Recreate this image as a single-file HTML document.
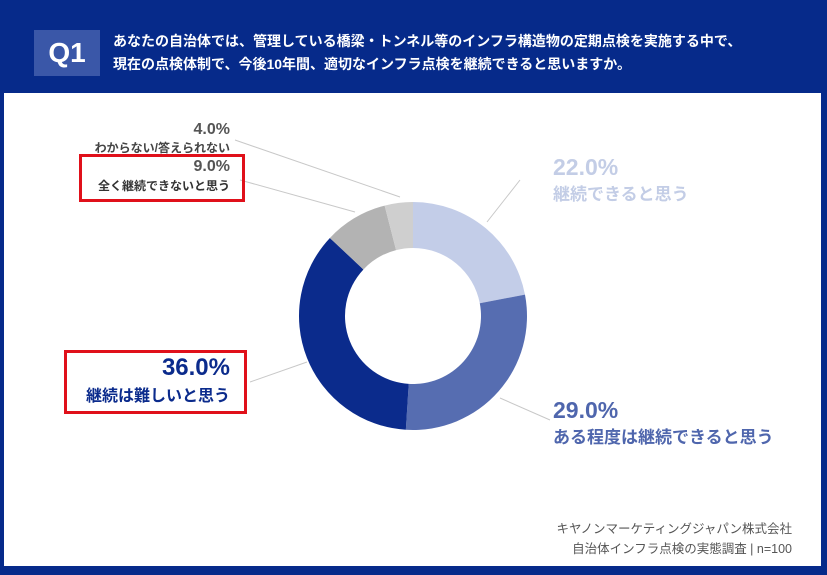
<!DOCTYPE html>
<html><head><meta charset="utf-8">
<style>
body{margin:0;width:827px;height:575px;background:#062a8a;font-family:"Liberation Sans","Noto Sans CJK JP",sans-serif;position:relative;overflow:hidden}
.abs{position:absolute}
#panel{left:4px;top:93px;width:817px;height:473px;background:#fff}
#q1{left:34px;top:30px;width:66px;height:46px;background:#3a57a8;color:#fff;font-weight:bold;font-size:28px;line-height:46px;text-align:center}
#qtext{left:113px;top:30px;color:#fff;font-weight:bold;font-size:14px;line-height:23px}
.lbl{font-weight:bold;white-space:nowrap}
.box{border:3px solid #e0101a}
</style></head><body>
<div class="abs" id="panel"></div>
<div class="abs" id="q1">Q1</div>
<div class="abs" id="qtext">あなたの自治体では、管理している橋梁・トンネル等のインフラ構造物の定期点検を実施する中で、<br>現在の点検体制で、今後10年間、適切なインフラ点検を継続できると思いますか。</div>
<svg class="abs" style="left:0;top:0" width="827" height="575">
<g id="lines" stroke="#c8c8c8" stroke-width="1" fill="none">
<polyline points="235,140 400,197"/>
<polyline points="240,180 355,212"/>
<polyline points="250,382 307,362"/>
<polyline points="520,180 487,222"/>
<polyline points="550,420 500,398"/>
</g>
<g id="slices"></g>
</svg>
<div class="abs lbl" style="left:170px;top:121px;text-align:right;width:60px;font-size:16px;color:#555">4.0%</div>
<div class="abs lbl" style="left:70px;top:139px;width:160px;text-align:right;font-size:12px;color:#444">わからない/答えられない</div>
<div class="abs box" style="left:79px;top:154px;width:160px;height:42px"></div>
<div class="abs lbl" style="left:150px;top:158px;width:80px;text-align:right;font-size:16px;color:#555">9.0%</div>
<div class="abs lbl" style="left:70px;top:177px;width:160px;text-align:right;font-size:12px;color:#333">全く継続できないと思う</div>
<div class="abs box" style="left:64px;top:350px;width:177px;height:58px"></div>
<div class="abs lbl" style="left:110px;top:354px;width:120px;text-align:right;font-size:24px;color:#0b2b8c">36.0%</div>
<div class="abs lbl" style="left:60px;top:382px;width:170px;text-align:right;font-size:16px;color:#0b2b8c">継続は難しいと思う</div>
<div class="abs lbl" style="left:553px;top:154px;font-size:23px;color:#c3cde6">22.0%</div>
<div class="abs lbl" style="left:553px;top:180px;font-size:17px;color:#c3cde6">継続できると思う</div>
<div class="abs lbl" style="left:553px;top:397px;font-size:23px;color:#4f66ad">29.0%</div>
<div class="abs lbl" style="left:553px;top:423px;font-size:17px;color:#4f66ad">ある程度は継続できると思う</div>
<div class="abs" style="left:520px;top:519px;width:272px;text-align:right;font-size:12.5px;line-height:20px;color:#555">キヤノンマーケティングジャパン株式会社<br>自治体インフラ点検の実態調査 | n=100</div>
<script>
const categories=["継続できると思う","ある程度は継続できると思う","継続は難しいと思う","全く継続できないと思う","わからない/答えられない"];
const values=[22,29,36,9,4];
const colors=["#c3cde8","#566db1","#0b2b8c","#b3b3b3","#cfcfcf"];
const cx=413,cy=316,R=114,r=68;
const g=document.getElementById('slices');
const total=values.reduce((a,b)=>a+b,0);
let acc=0;
function pt(rad,a){return [cx+rad*Math.sin(a),cy-rad*Math.cos(a)];}
values.forEach((v,i)=>{
  const a0=acc/total*2*Math.PI;acc+=v;const a1=acc/total*2*Math.PI;
  const large=(a1-a0)>Math.PI?1:0;
  const [x0,y0]=pt(R,a0),[x1,y1]=pt(R,a1),[x2,y2]=pt(r,a1),[x3,y3]=pt(r,a0);
  const p=document.createElementNS('http://www.w3.org/2000/svg','path');
  p.setAttribute('d',`M${x0},${y0}A${R},${R} 0 ${large} 1 ${x1},${y1}L${x2},${y2}A${r},${r} 0 ${large} 0 ${x3},${y3}Z`);
  p.setAttribute('fill',colors[i]);
  
  
  g.appendChild(p);
});
</script>
</body></html>
